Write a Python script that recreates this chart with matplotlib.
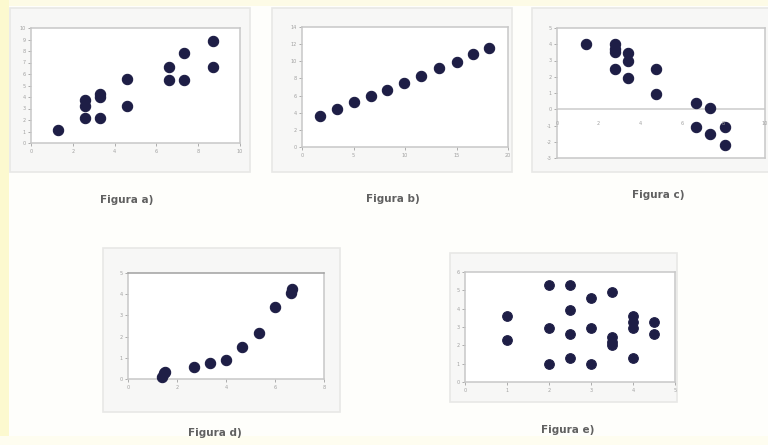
import matplotlib
matplotlib.use("Agg")
import matplotlib.pyplot as plt
from matplotlib.patches import Rectangle

# ---------------------------------------------------------------------------- #
# Data

a_x = [1.3, 2.6, 2.6, 2.6, 3.3, 3.3, 3.3, 4.6, 4.6, 6.6, 6.6, 7.3, 7.3, 8.7, 8.7]
a_y = [1.1, 3.7, 3.2, 2.2, 4.3, 4.0, 2.2, 5.6, 3.2, 6.6, 5.5, 7.8, 5.5, 8.9, 6.6]

b_x = [1.7, 3.4, 5.0, 6.7, 8.3, 9.9, 11.6, 13.3, 15.0, 16.6, 18.2]
b_y = [3.6, 4.4, 5.2, 6.0, 6.7, 7.5, 8.3, 9.2, 9.9, 10.8, 11.6]

c_x = [1.4, 2.8, 2.8, 2.8, 3.4, 3.4, 2.8, 3.4, 4.75, 4.75, 6.7, 7.35, 6.7, 7.35, 8.1, 8.1]
c_y = [4.0, 4.0, 3.7, 3.5, 3.45, 3.0, 2.45, 1.9, 2.45, 0.95, 0.4, 0.1, -1.1, -1.5, -1.1, -2.2]

d_x = [1.38, 1.45, 1.52, 2.68, 3.33, 3.98, 4.66, 5.34, 6.0, 6.64, 6.68]
d_y = [0.11, 0.27, 0.34, 0.55, 0.77, 0.9, 1.5, 2.18, 3.38, 4.04, 4.23]

e_x = [1, 1, 2, 2, 2, 2.5, 2.5, 2.5, 2.5, 3, 3, 3, 3.5, 3.5, 3.5, 3.5, 4, 4, 4, 4, 4.5, 4.5]
e_y = [3.58, 2.27, 5.27, 2.96, 1.0, 5.27, 3.95, 2.6, 1.33, 4.6, 2.96, 1.0,
       4.9, 2.45, 2.2, 2.0, 3.58, 3.27, 2.96, 1.33, 3.27, 2.64]

captions = ["Figura a)", "Figura b)", "Figura c)", "Figura d)", "Figura e)"]

# ---------------------------------------------------------------------------- #
# Figure

W, H = 768, 445
fig = plt.figure(figsize=(W / 100, H / 100), dpi=100)
fig.patch.set_facecolor("#fefefb")

dot = "#1e1e46"
spine_col = "#c8c8c8"
tick_col = "#a0a0a0"
cap_col = "#606060"


def px_rect(l, t, r, b):
    # pixel box -> figure fraction [left, bottom, width, height]
    return [l / W, (H - b) / H, (r - l) / W, (b - t) / H]


def band(l, t, r, b, col):
    x0, y0, w, h = px_rect(l, t, r, b)
    fig.patches.append(Rectangle((x0, y0), w, h, transform=fig.transFigure,
                                 facecolor=col, edgecolor="none", zorder=-10))


def frame(l, t, r, b):
    x0, y0, w, h = px_rect(l, t, r, b)
    fig.patches.append(Rectangle((x0, y0), w, h, transform=fig.transFigure,
                                 facecolor="#f7f7f6", edgecolor="#e8e8e6",
                                 lw=1.2, zorder=-5))


def panel(rect, xs, ys, xlim, ylim, xticks, yticks, s=55):
    ax = fig.add_axes(rect)
    ax.set_zorder(2)
    ax.set_facecolor("white")
    ax.scatter(xs, ys, s=s, color=dot, edgecolors=dot, linewidths=0.8,
               zorder=3, clip_on=False)
    ax.set_xlim(*xlim)
    ax.set_ylim(*ylim)
    ax.set_xticks(xticks)
    ax.set_yticks(yticks)
    ax.set_xticklabels([str(t) for t in xticks])
    ax.set_yticklabels([str(t) for t in yticks])
    ax.tick_params(labelsize=3.5, colors=tick_col, length=2, width=0.6, pad=2)
    for sp in ax.spines.values():
        sp.set_color(spine_col)
        sp.set_linewidth(1.1)
    return ax


def caption(x, y, txt):
    fig.text(x / W, 1 - y / H, txt, ha="center", va="center",
             fontsize=7.5, color=cap_col, fontweight="semibold")


# faint yellow edges of the scanned page
band(0, 0, W, 6, "#fdfbe6")
band(0, 0, 9, H, "#fcf9cf")
band(0, 436, W, H, "#fefdf0")

# panel a
frame(10, 8, 250, 172)
panel(px_rect(31, 28, 240, 143), a_x, a_y, (0, 10), (0, 10),
      [0, 2, 4, 6, 8, 10], list(range(0, 11)))
caption(127, 200, captions[0])

# panel b
frame(272, 8, 512, 172)
panel(px_rect(302, 27, 508, 147), b_x, b_y, (0, 20), (0, 14),
      [0, 5, 10, 15, 20], [0, 2, 4, 6, 8, 10, 12, 14])
caption(393, 199, captions[1])

# panel c
frame(532, 8, 770, 172)
ax_c = panel(px_rect(557, 28, 765, 158), c_x, c_y, (0, 10), (-3, 5),
             [], list(range(-3, 6)))
ax_c.axhline(0, color="#cccccc", lw=1.1, zorder=1)
for t in [0, 2, 4, 6, 8, 10]:
    ax_c.text(t, -0.85, str(t), ha="center", va="center",
              fontsize=3.5, color=tick_col)
caption(658, 195, captions[2])

# panel d
frame(103, 248, 340, 412)
ax_d = panel(px_rect(128, 273, 324, 379), d_x, d_y, (0, 8), (0, 5),
             [0, 2, 4, 6, 8], [0, 1, 2, 3, 4, 5])
ax_d.spines["top"].set_color("#a0a0a0")
caption(215, 433, captions[3])

# panel e
frame(450, 253, 677, 402)
panel(px_rect(465, 272, 675, 382), e_x, e_y, (0, 5), (0, 6),
      [0, 1, 2, 3, 4, 5], [0, 1, 2, 3, 4, 5, 6], s=48)
caption(568, 430, captions[4])

fig.savefig("out.png", dpi=100, facecolor=fig.get_facecolor())
